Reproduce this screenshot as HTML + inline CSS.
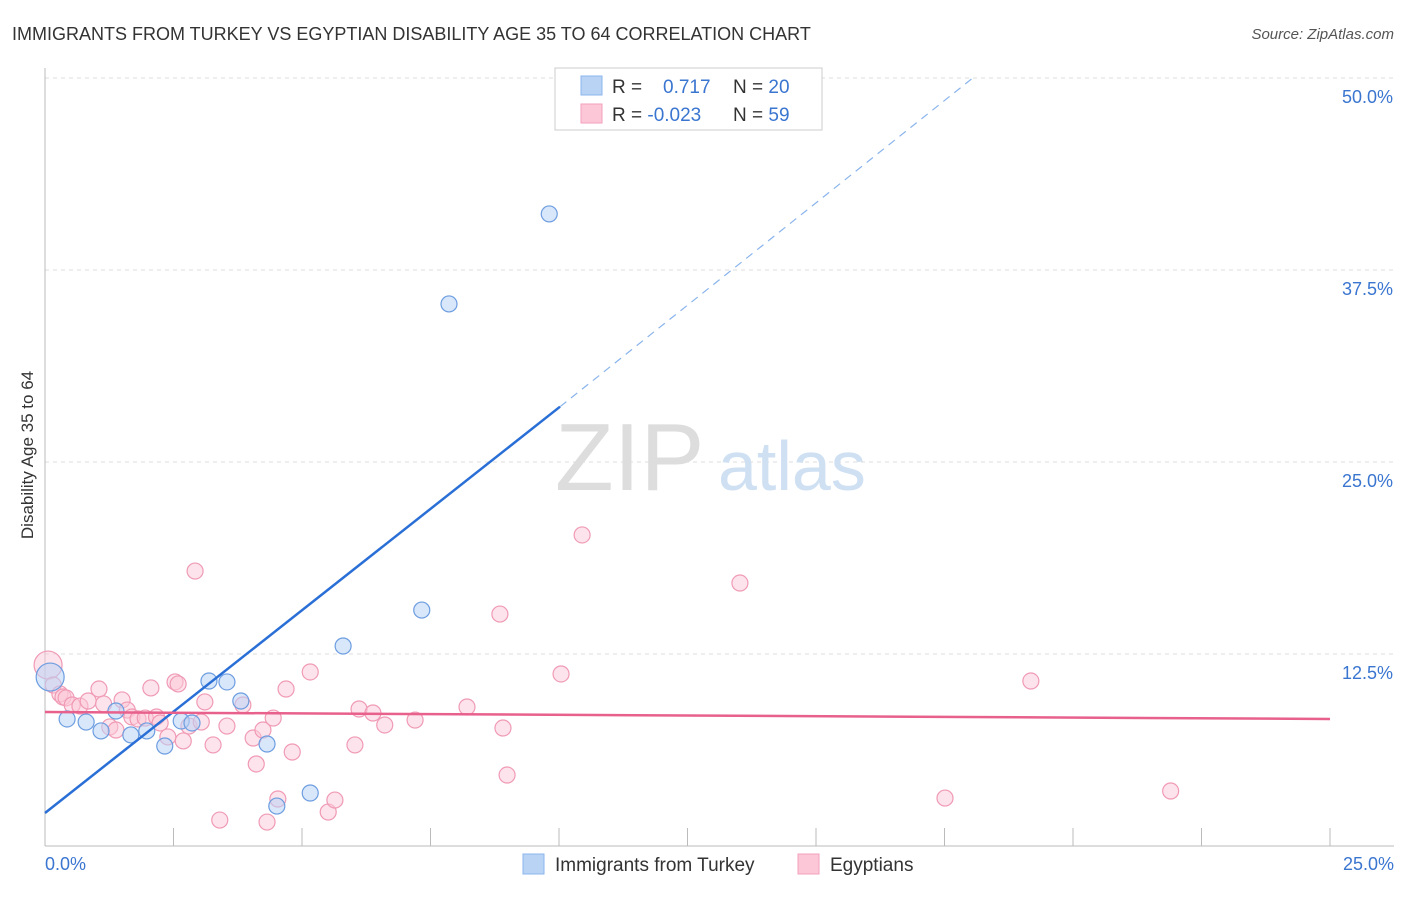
<!DOCTYPE html>
<html><head><meta charset="utf-8"><style>
body{margin:0;background:#fff;font-family:"Liberation Sans",sans-serif;}
svg text{font-family:"Liberation Sans",sans-serif;}
</style></head><body>
<svg id="chart" width="1406" height="892" xmlns="http://www.w3.org/2000/svg">
<text x="12" y="40" font-size="18" fill="#333">IMMIGRANTS FROM TURKEY VS EGYPTIAN DISABILITY AGE 35 TO 64 CORRELATION CHART</text>
<text x="1394" y="39" font-size="15" fill="#555" font-style="italic" text-anchor="end">Source: ZipAtlas.com</text>
<text transform="translate(33,455) rotate(-90)" font-size="17" fill="#333" text-anchor="middle">Disability Age 35 to 64</text>
<g id="grid"></g>
<g id="axes"></g>
<text x="555" y="490" font-size="96" fill="#ddd" font-family="Liberation Serif">ZIP</text>
<text x="718" y="490" font-size="70" fill="#cfe0f3">atlas</text>
<g id="pts"></g>
<g id="lines"></g>
<g>
<rect x="555" y="68" width="267" height="62" fill="#fff" stroke="#ccc"/>
<rect x="581" y="76" width="21" height="19" fill="#b9d3f5" stroke="#8ab4ec"/>
<rect x="581" y="104" width="21" height="19" fill="#fcc8d8" stroke="#f2a1bb"/>
<text x="612" y="93" font-size="19" fill="#333">R = <tspan x="663" fill="#3a75d0">0.717</tspan></text>
<text x="733" y="93" font-size="19" fill="#333">N = <tspan fill="#3a75d0">20</tspan></text>
<text x="612" y="121" font-size="19" fill="#333">R = <tspan fill="#3a75d0">-0.023</tspan></text>
<text x="733" y="121" font-size="19" fill="#333">N = <tspan fill="#3a75d0">59</tspan></text>
</g>
<g>
<rect x="523" y="854" width="21" height="20" fill="#b9d3f5" stroke="#8ab4ec"/>
<text x="555" y="871" font-size="19" fill="#333">Immigrants from Turkey</text>
<rect x="798" y="854" width="21" height="20" fill="#fcc8d8" stroke="#f2a1bb"/>
<text x="830" y="871" font-size="19" fill="#333">Egyptians</text>
</g>
</svg>
<script>
const blueX=[0.1,0.43,0.8,1.09,1.38,1.67,1.98,2.33,2.65,2.86,3.19,3.54,3.81,4.32,4.51,5.16,5.8,7.33,7.86,9.81];
const blueY=[11.0,8.27,8.07,7.49,8.79,7.23,7.49,6.51,8.14,8.01,10.74,10.68,9.44,6.64,2.6,3.45,13.02,15.36,35.29,41.15];
const pinkX=[0.06,0.16,0.29,0.35,0.41,0.53,0.68,0.84,1.05,1.14,1.26,1.38,1.5,1.6,1.69,1.81,1.95,2.06,2.17,2.24,2.39,2.53,2.59,2.69,2.8,2.92,3.04,3.11,3.27,3.4,3.54,3.85,4.05,4.11,4.24,4.32,4.44,4.53,4.69,4.81,5.16,5.51,5.64,6.03,6.11,6.38,6.61,7.2,8.21,8.85,8.91,8.99,10.04,10.45,13.52,17.51,19.18,21.9];
const pinkY=[11.78,10.48,9.9,9.7,9.64,9.18,9.11,9.44,10.22,9.25,7.75,7.55,9.51,8.85,8.4,8.27,8.33,10.29,8.4,8.01,7.1,10.68,10.55,6.84,7.81,17.9,8.07,9.38,6.58,1.69,7.81,9.18,7.03,5.34,7.55,1.56,8.33,3.06,10.22,6.12,11.33,2.21,2.99,6.58,8.92,8.66,7.88,8.2,9.05,15.1,7.68,4.62,11.2,20.25,17.12,3.12,10.74,3.58];
const xTicks=[0,2.5,5,7.5,10,12.5,15,17.5,20,22.5,25];
const yTicks=[12.5,25,37.5,50];
const yTickLabels=["12.5%","25.0%","37.5%","50.0%"];
const blueLine=[[0,2.15],[10.02,28.6]];
const blueDash=[[10.02,28.6],[18.05,50]];
const pinkLine=[[0,8.72],[25,8.27]];
const X=v=>45+v*51.4, Y=v=>846-v*15.36;
const NS="http://www.w3.org/2000/svg";
function mk(p,t,a){const e=document.createElementNS(NS,t);for(const k in a)e.setAttribute(k,a[k]);p.appendChild(e);return e;}
const grid=document.getElementById('grid'),axes=document.getElementById('axes'),pts=document.getElementById('pts'),lines=document.getElementById('lines');
yTicks.forEach((t,i)=>{
 const l=mk(grid,'line',{x1:45,x2:1394,y1:Y(t),y2:Y(t),stroke:'#ddd','stroke-dasharray':'4,4'});
 
 
 const tx=mk(axes,'text',{x:1393,y:Y(t)+25,'font-size':18,fill:'#3a75d0','text-anchor':'end'});
 tx.textContent=yTickLabels[i];
 
 
});
const ax=mk(axes,'line',{x1:45,x2:1394,y1:846,y2:846,stroke:'#bbb'});


const ay=mk(axes,'line',{x1:45,x2:45,y1:68,y2:846,stroke:'#bbb'});


xTicks.forEach(t=>{
 const l=mk(axes,'line',{x1:X(t),x2:X(t),y1:828,y2:846,stroke:'#bbb'});
 
 
});
const x0=mk(axes,'text',{x:45,y:870,'font-size':18,fill:'#3a75d0'});x0.textContent='0.0%';


const x1=mk(axes,'text',{x:1394,y:870,'font-size':18,fill:'#3a75d0','text-anchor':'end'});x1.textContent='25.0%';


pinkX.forEach((v,i)=>{
 const c=mk(pts,'circle',{cx:X(v),cy:Y(pinkY[i]),r:i==0?14:8,fill:'#fcc8d8','fill-opacity':0.5,stroke:'#f09ab5','stroke-width':1.2});
 
 
});
blueX.forEach((v,i)=>{
 const c=mk(pts,'circle',{cx:X(v),cy:Y(blueY[i]),r:i==0?14:8,fill:'#b9d3f5','fill-opacity':0.55,stroke:'#6c9de0','stroke-width':1.2});
 
 
});
const bl=mk(lines,'line',{x1:X(blueLine[0][0]),y1:Y(blueLine[0][1]),x2:X(blueLine[1][0]),y2:Y(blueLine[1][1]),stroke:'#2a6fd6','stroke-width':2.5});


const bd=mk(lines,'line',{x1:X(blueDash[0][0]),y1:Y(blueDash[0][1]),x2:X(blueDash[1][0]),y2:Y(blueDash[1][1]),stroke:'#8ab4ec','stroke-width':1.2,'stroke-dasharray':'8,6'});


const pl=mk(lines,'line',{x1:X(pinkLine[0][0]),y1:Y(pinkLine[0][1]),x2:X(pinkLine[1][0]),y2:Y(pinkLine[1][1]),stroke:'#e8608c','stroke-width':2.5});


</script>
</body></html>
